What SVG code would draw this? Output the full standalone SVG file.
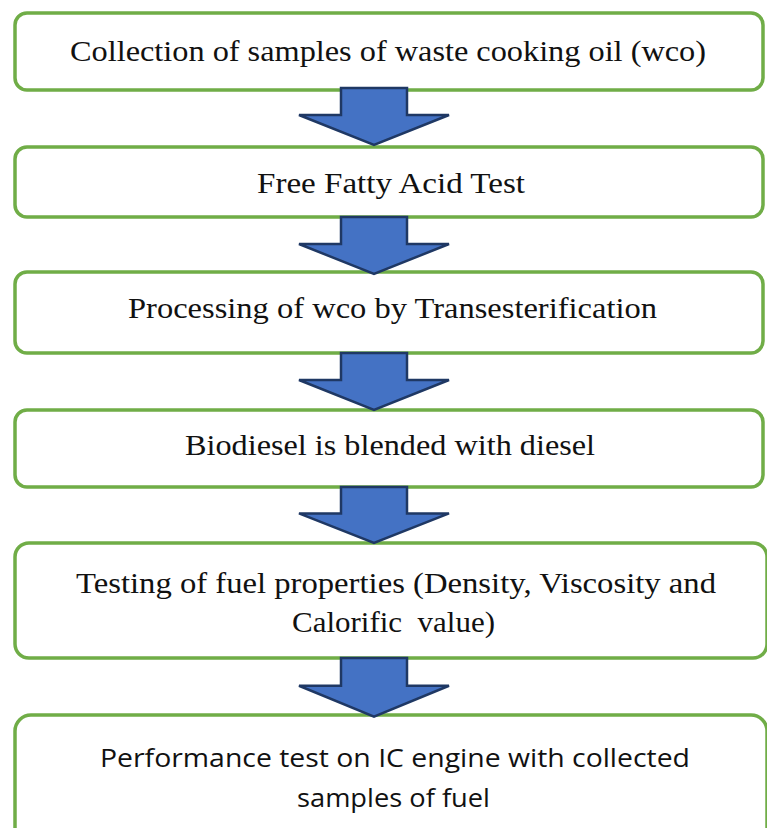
<svg xmlns="http://www.w3.org/2000/svg" width="767" height="828" viewBox="0 0 767 828">
<style>
.box{fill:#ffffff;stroke:#70AD47;stroke-width:3.5}
.serif{font-family:"Liberation Serif","DejaVu Serif",serif;font-size:30px;fill:#111111}
.sans{font-family:"Open Sans","Noto Sans","Liberation Sans",sans-serif;font-size:26px;fill:#111111}
.arrow{fill:#4472C4;stroke:#1F3864;stroke-width:2.5;stroke-linejoin:miter}
</style>
<defs>
<path id="dn" d="M-33,0 H33 V27 H75 L0,57 L-75,27 H-33 Z"/>
</defs>
<rect x="0" y="0" width="767" height="828" fill="#ffffff"/>
<g id="node1">
<rect class="box" x="15" y="13" width="748" height="77" rx="12"/>
<text class="serif" x="70" y="61" textLength="636" lengthAdjust="spacingAndGlyphs">Collection of samples of waste cooking oil (wco)</text>
</g>
<g id="node2">
<rect class="box" x="15" y="147" width="748" height="70" rx="12"/>
<text class="serif" x="257" y="193" textLength="268" lengthAdjust="spacingAndGlyphs">Free Fatty Acid Test</text>
</g>
<g id="node3">
<rect class="box" x="15" y="272" width="748" height="81" rx="12"/>
<text class="serif" x="128" y="318" textLength="529" lengthAdjust="spacingAndGlyphs">Processing of wco by Transesterification</text>
</g>
<g id="node4">
<rect class="box" x="15" y="410" width="748" height="77" rx="12"/>
<text class="serif" x="185" y="455" textLength="410" lengthAdjust="spacingAndGlyphs">Biodiesel is blended with diesel</text>
</g>
<g id="node5">
<rect class="box" x="15" y="543" width="752" height="115" rx="14"/>
<text class="serif" x="76" y="593" textLength="640" lengthAdjust="spacingAndGlyphs">Testing of fuel properties (Density, Viscosity and</text>
<text class="serif" x="292" y="632" textLength="203" lengthAdjust="spacingAndGlyphs" style="white-space:pre">Calorific  value)</text>
</g>
<g id="node6">
<rect class="box" x="15" y="715" width="752" height="140" rx="16"/>
<text class="sans" x="100" y="767" textLength="590" lengthAdjust="spacingAndGlyphs">Performance test on IC engine with collected</text>
<text class="sans" x="297" y="807" textLength="193" lengthAdjust="spacingAndGlyphs">samples of fuel</text>
</g>
<g id="connectors">
<use href="#dn" class="arrow" transform="translate(374,88) scale(1,1.0)"/>
<use href="#dn" class="arrow" transform="translate(374,217) scale(1,1.0)"/>
<use href="#dn" class="arrow" transform="translate(374,353) scale(1,1.0)"/>
<use href="#dn" class="arrow" transform="translate(374,487) scale(1,0.98)"/>
<use href="#dn" class="arrow" transform="translate(374,658) scale(1,1.03)"/>
</g>
</svg>
